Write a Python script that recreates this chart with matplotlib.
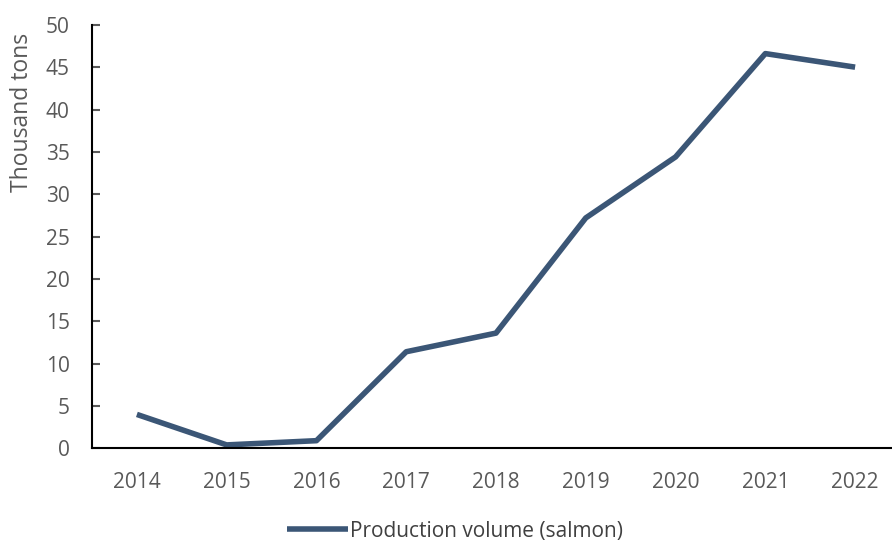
import matplotlib.pyplot as plt

years = ['2014', '2015', '2016', '2017', '2018', '2019', '2020', '2021', '2022']
salmon = [4.0, 0.4, 0.9, 11.4, 13.6, 27.2, 34.4, 46.6, 45.0]

line_color = '#3b5676'
text_color = '#595959'

plt.rcParams['font.family'] = ['Open Sans', 'DejaVu Sans']

fig = plt.figure(figsize=(8.92, 5.43), dpi=100)
ax = fig.add_axes([92 / 892, 1 - 448.3 / 543, 808 / 892, 423.5 / 543])

x = range(len(years))
ax.plot(x, salmon, color=line_color, linewidth=4, solid_capstyle='butt',
        label='Production volume (salmon)')

ax.set_xlim(-0.5, len(years) - 0.5)
ax.set_ylim(0, 50)
ax.set_yticks(range(0, 51, 5))
ax.set_xticks(list(x))
ax.set_xticklabels(years)

for side in ['top', 'right']:
    ax.spines[side].set_visible(False)
for side in ['left', 'bottom']:
    ax.spines[side].set_linewidth(1.5)
    ax.spines[side].set_color('black')

ax.tick_params(axis='y', direction='in', length=6, width=1.5, colors=text_color,
               labelsize=15, pad=16)
ax.tick_params(axis='x', length=0, colors=text_color, labelsize=15, pad=17)
for lbl in ax.get_yticklabels() + ax.get_xticklabels():
    lbl.set_color(text_color)

fig.text(22 / 892, 1 - 112 / 543, 'Thousand tons', rotation=90, ha='center',
         va='center', fontsize=16.5, color=text_color)

fig.legend(loc='center', bbox_to_anchor=(455 / 892, 1 - 531 / 543), frameon=False,
           fontsize=15, handlelength=2.9, handletextpad=0.1, labelcolor='#404040',
           borderpad=0.2)

fig.savefig('out.png', dpi=100)
